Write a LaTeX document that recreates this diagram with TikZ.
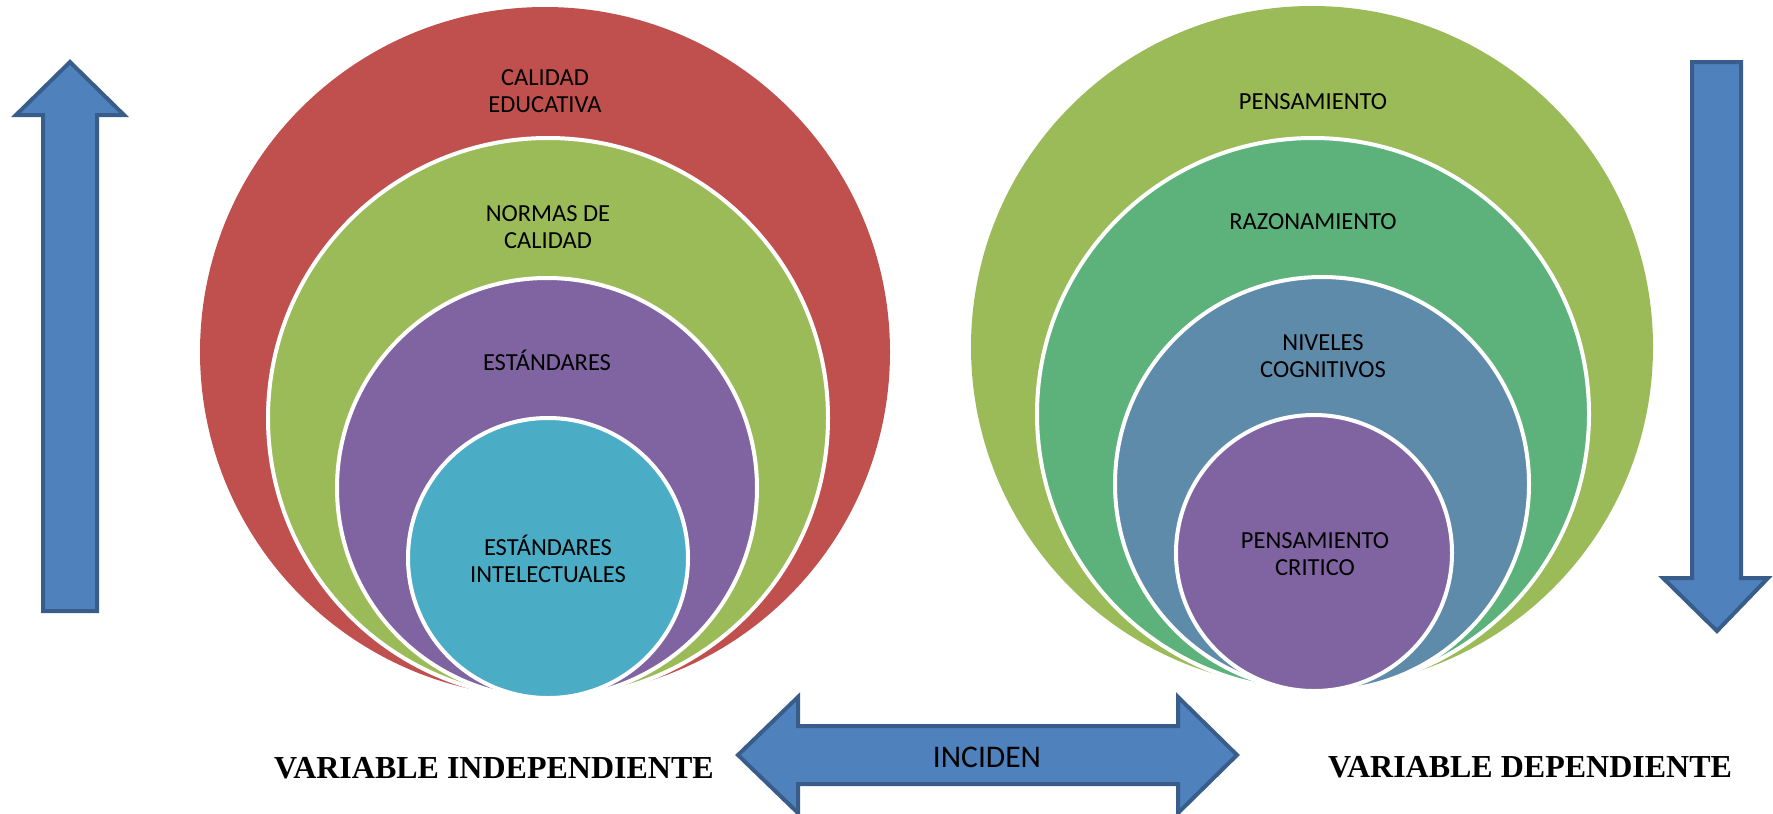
\documentclass[tikz,border=0pt]{standalone}
\usepackage{fontspec}
\setmainfont{Carlito}
\newfontfamily\timesb{Liberation Serif}
\definecolor{cRed}{HTML}{C0504D}
\definecolor{cGreen}{HTML}{9BBB59}
\definecolor{cPurple}{HTML}{8064A2}
\definecolor{cCyan}{HTML}{4BACC6}
\definecolor{cSea}{HTML}{5DB27C}
\definecolor{cSteel}{HTML}{5F8BAB}
\definecolor{cArrow}{HTML}{4F81BD}
\definecolor{cArrowB}{HTML}{385D8A}
\tikzset{
  disc/.style={circle, inner sep=0pt, outer sep=0pt, draw=white, line width=4pt},
  outerdisc/.style={circle, inner sep=0pt, outer sep=0pt},
  lbl/.style={font=\fontsize{24.5}{27.5}\selectfont, align=center, text=black, inner sep=0pt},
  bigarrow/.style={fill=cArrow, draw=cArrowB, line width=4pt, line join=miter},
  varlbl/.style={font=\timesb\bfseries\fontsize{32}{36}\selectfont, inner sep=0pt}
}
\begin{document}
\begin{tikzpicture}[x=1pt,y=-1pt]
\useasboundingbox (0,0) rectangle (1773,814);
% left group
\node[outerdisc, fill=cRed, minimum size=690pt] (c1) at (545,352) {};
\node[disc, fill=cGreen, minimum size=560pt] (c2) at (548,418) {};
\node[disc, fill=cPurple, minimum size=420pt] (c3) at (547,488) {};
\node[disc, fill=cCyan, minimum size=280pt] (c4) at (548,558) {};
\node[lbl] (t1) at (545,91) {CALIDAD\\EDUCATIVA};
\node[lbl] (t2) at (548,227) {NORMAS DE\\CALIDAD};
\node[lbl] (t3) at (547,360) {ESTÁNDARES};
\node[lbl] (t4) at (548,559) {ESTÁNDARES\\INTELECTUALES};
% right group
\node[outerdisc, fill=cGreen, minimum size=682pt] (d1) at (1312,347) {};
\node[disc, fill=cSea, minimum size=552pt] (d2) at (1313,414) {};
\node[disc, fill=cSteel, minimum size=414pt] (d3) at (1322,484) {};
\node[disc, fill=cPurple, minimum size=276pt] (d4) at (1314,553) {};
\node[lbl] (u1) at (1313,102) {PENSAMIENTO};
\node[lbl] (u2) at (1313,222) {RAZONAMIENTO};
\node[lbl] (u3) at (1323,356) {NIVELES\\COGNITIVOS};
\node[lbl] (u4) at (1315,554) {PENSAMIENTO\\CRITICO};
% up arrow
\draw[bigarrow] (70,62) -- (124,115) -- (97,115) -- (97,611) -- (43,611) -- (43,115) -- (16,115) -- cycle;
% down arrow
\draw[bigarrow] (1717,631) -- (1768,578) -- (1741,578) -- (1741,62) -- (1692,62) -- (1692,578) -- (1663,578) -- cycle;
% double arrow
\draw[bigarrow] (738,755) -- (798,697) -- (798,726) -- (1178,726) -- (1178,697) -- (1237,755) -- (1178,813) -- (1178,784) -- (798,784) -- (798,813) -- cycle;
\node[font=\fontsize{31.5}{34}\selectfont, inner sep=0pt] (inc) at (987,757) {INCIDEN};
\node[varlbl] (vi) at (494,768) {VARIABLE INDEPENDIENTE};
\node[varlbl] (vd) at (1530,767) {VARIABLE DEPENDIENTE};
\end{tikzpicture}
\end{document}
